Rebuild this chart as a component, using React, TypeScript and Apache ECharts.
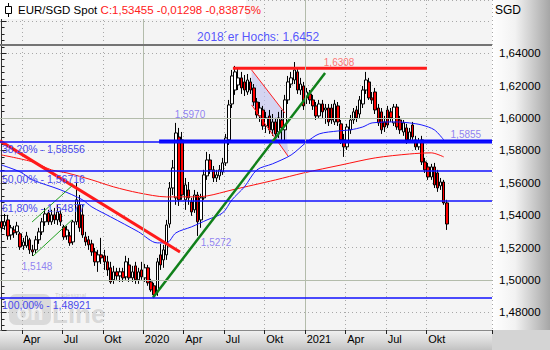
import { useEffect, useRef } from 'react';
import * as echarts from 'echarts';

// ---- axis / calendar ----
const firstWeek = '2019-02-11';
const weekSlots = 158;

// ---- weekly candles ----
const opens = [
  1.5359, 1.5334, 1.5371, 1.5278, 1.5309, 1.5297, 1.5285, 1.5211, 1.5211, 1.5248,
  1.5186, 1.5186, 1.5248, 1.5297, 1.5359, 1.5414, 1.5359, 1.5402, 1.5371, 1.5408,
  1.5328, 1.5272, 1.5272, 1.5235, 1.5359, 1.5464, 1.5402, 1.5266, 1.5248, 1.5223,
  1.5173, 1.5112, 1.5155, 1.5149, 1.5112, 1.5075, 1.5001, 1.5050, 1.5025, 1.5050,
  1.5019, 1.5093, 1.5013, 1.5087, 1.5001, 1.5062, 1.5013, 1.5075, 1.4988, 1.4964,
  1.4927, 1.5155, 1.5124, 1.5155, 1.5346, 1.5568, 1.5507, 1.5883, 1.5865, 1.5495,
  1.5556, 1.5482, 1.5433, 1.5525, 1.5371, 1.5507, 1.5643, 1.5741, 1.5680, 1.5630,
  1.5643, 1.5667, 1.5723, 1.5865, 1.6087, 1.6173, 1.6204, 1.6248, 1.6223, 1.6161,
  1.6223, 1.6186, 1.6099, 1.6013, 1.6050, 1.5951, 1.6013, 1.5927, 1.5976, 1.5914,
  1.5988, 1.5927, 1.6112, 1.6210, 1.6235, 1.6285, 1.6173, 1.6198, 1.6124, 1.6149,
  1.6112, 1.6075, 1.6013, 1.6087, 1.6050, 1.6062, 1.6062, 1.5976, 1.6075, 1.5964,
  1.5865, 1.5822, 1.5927, 1.5988, 1.6050, 1.6025, 1.6087, 1.6173, 1.6223, 1.6124,
  1.6161, 1.6062, 1.6038, 1.5976, 1.6050, 1.6038, 1.5970, 1.6068, 1.5988, 1.5914,
  1.5939, 1.5865, 1.5957, 1.5865, 1.5822, 1.5865, 1.5729, 1.5698, 1.5636, 1.5698,
  1.5661, 1.5581, 1.5605, 1.5476,
];
const closes = [
  1.5322, 1.5359, 1.5272, 1.5322, 1.5291, 1.5334, 1.5204, 1.5235, 1.5272, 1.5186,
  1.5173, 1.5248, 1.5297, 1.5359, 1.5408, 1.5359, 1.5402, 1.5371, 1.5420, 1.5359,
  1.5266, 1.5309, 1.5229, 1.5359, 1.5495, 1.5322, 1.5278, 1.5235, 1.5217, 1.5173,
  1.5112, 1.5155, 1.5136, 1.5112, 1.5062, 1.4988, 1.5050, 1.5025, 1.5050, 1.5013,
  1.5112, 1.5013, 1.5050, 1.5001, 1.5050, 1.5019, 1.5075, 1.4982, 1.4939, 1.4908,
  1.5112, 1.5093, 1.5186, 1.5340, 1.5568, 1.5692, 1.5908, 1.5495, 1.5525, 1.5587,
  1.5507, 1.5420, 1.5525, 1.5359, 1.5507, 1.5649, 1.5741, 1.5680, 1.5630, 1.5649,
  1.5680, 1.5723, 1.5877, 1.6081, 1.6260, 1.6285, 1.6248, 1.6186, 1.6173, 1.6235,
  1.6173, 1.6099, 1.6019, 1.6062, 1.5951, 1.6001, 1.5927, 1.5976, 1.5902, 1.6001,
  1.5939, 1.6112, 1.6223, 1.6248, 1.6297, 1.6173, 1.6210, 1.6075, 1.6161, 1.6112,
  1.6075, 1.6013, 1.6087, 1.6038, 1.6062, 1.5976, 1.5988, 1.6087, 1.5976, 1.5865,
  1.5822, 1.5945, 1.5988, 1.6038, 1.6001, 1.6112, 1.6173, 1.6235, 1.6124, 1.6112,
  1.6050, 1.5970, 1.5927, 1.5945, 1.5957, 1.6001, 1.6068, 1.5945, 1.5927, 1.5970,
  1.5865, 1.5914, 1.5883, 1.5822, 1.5852, 1.5729, 1.5680, 1.5636, 1.5698, 1.5587,
  1.5568, 1.5605, 1.5476, 1.53455,
];
const lows = [
  1.5297, 1.5309, 1.5248, 1.5248, 1.5260, 1.5278, 1.5186, 1.5186, 1.5198, 1.5161,
  1.5148, 1.5167, 1.5223, 1.5278, 1.5334, 1.5340, 1.5340, 1.5346, 1.5340, 1.5334,
  1.5248, 1.5248, 1.5211, 1.5217, 1.5340, 1.5297, 1.5260, 1.5211, 1.5186, 1.5149,
  1.5087, 1.5050, 1.5099, 1.5062, 1.5025, 1.4976, 1.4976, 1.5001, 1.4988, 1.4988,
  1.5001, 1.4988, 1.4988, 1.4976, 1.4976, 1.5001, 1.4988, 1.4964, 1.4927, 1.4892,
  1.4902, 1.5062, 1.5075, 1.5124, 1.5322, 1.5525, 1.5464, 1.5457, 1.5495, 1.5433,
  1.5464, 1.5396, 1.5414, 1.5272, 1.5322, 1.5495, 1.5618, 1.5655, 1.5605, 1.5605,
  1.5618, 1.5649, 1.5704, 1.5834, 1.6062, 1.6143, 1.6173, 1.6149, 1.6136, 1.6143,
  1.6149, 1.6075, 1.6001, 1.5976, 1.5927, 1.5908, 1.5902, 1.5890, 1.5883, 1.5877,
  1.5865, 1.5852, 1.6087, 1.6186, 1.6210, 1.6149, 1.6143, 1.6050, 1.6087, 1.6087,
  1.6050, 1.5988, 1.6001, 1.6001, 1.5964, 1.5951, 1.5964, 1.5957, 1.5951, 1.5840,
  1.5760, 1.5803, 1.5902, 1.5964, 1.5976, 1.6001, 1.6062, 1.6149, 1.6112, 1.6087,
  1.6025, 1.5951, 1.5902, 1.5914, 1.5939, 1.5976, 1.5951, 1.5927, 1.5902, 1.5890,
  1.5840, 1.5852, 1.5865, 1.5803, 1.5803, 1.5710, 1.5661, 1.5618, 1.5618, 1.5568,
  1.5544, 1.5556, 1.5464, 1.5309,
];
const highs = [
  1.5402, 1.5408, 1.5402, 1.5340, 1.5334, 1.5359, 1.5297, 1.5260, 1.5297, 1.5260,
  1.5217, 1.5272, 1.5322, 1.5383, 1.5445, 1.5433, 1.5433, 1.5445, 1.5464, 1.5433,
  1.5340, 1.5334, 1.5297, 1.5371, 1.5599, 1.5525, 1.5464, 1.5297, 1.5272, 1.5248,
  1.5198, 1.5186, 1.5260, 1.5186, 1.5149, 1.5112, 1.5087, 1.5075, 1.5075, 1.5075,
  1.5149, 1.5136, 1.5087, 1.5112, 1.5075, 1.5112, 1.5099, 1.5093, 1.5007, 1.4982,
  1.5136, 1.5223, 1.5217, 1.5371, 1.5605, 1.5741, 1.5970, 1.5939, 1.5914, 1.5630,
  1.5605, 1.5507, 1.5556, 1.5544, 1.5532, 1.5680, 1.5791, 1.5778, 1.5704, 1.5680,
  1.5710, 1.5754, 1.5902, 1.6112, 1.6297, 1.6322, 1.6308, 1.6285, 1.6266, 1.6272,
  1.6248, 1.6210, 1.6124, 1.6099, 1.6075, 1.6038, 1.6050, 1.6025, 1.6001, 1.6038,
  1.6050, 1.6143, 1.6260, 1.6285, 1.6346, 1.6309, 1.6248, 1.6223, 1.6186, 1.6173,
  1.6143, 1.6099, 1.6112, 1.6112, 1.6087, 1.6087, 1.6087, 1.6112, 1.6099, 1.5988,
  1.5902, 1.5964, 1.6019, 1.6062, 1.6075, 1.6136, 1.6198, 1.6285, 1.6248, 1.6161,
  1.6186, 1.6087, 1.6062, 1.6013, 1.6075, 1.6062, 1.6087, 1.6087, 1.6013, 1.5988,
  1.5964, 1.5939, 1.5976, 1.5890, 1.5877, 1.5890, 1.5754, 1.5723, 1.5717, 1.5723,
  1.5680, 1.5630, 1.5618, 1.5495,
];

// ---- moving averages: [week index, value] ----
const blueAverage: number[][] = [
  [0, 1.5710], [6, 1.5667], [10, 1.5618], [19, 1.5556], [26, 1.5495], [29, 1.5451],
  [35, 1.5390], [44, 1.5297], [50, 1.5229], [53, 1.5229], [56, 1.5291], [61, 1.5328],
  [66, 1.5371], [71, 1.5414], [74, 1.5495], [78, 1.5575], [82, 1.5680], [87, 1.5717],
  [93, 1.5772], [98, 1.5852], [102, 1.5902], [108, 1.5920], [112, 1.5927], [116, 1.5945],
  [119, 1.5970], [127, 1.5976], [131, 1.5970], [135, 1.5957], [139, 1.5927], [142, 1.5865],
];
const redAverage: number[][] = [
  [0, 1.5772], [10, 1.5729], [16, 1.5680], [21, 1.5661], [29, 1.5618], [36, 1.5575],
  [44, 1.5538], [53, 1.5513], [60, 1.5513], [66, 1.5519], [74, 1.5556], [81, 1.5587],
  [88, 1.5618], [97, 1.5661], [109, 1.5710], [120, 1.5754], [131, 1.5778], [138, 1.5785],
  [142, 1.5760],
];

// ---- drawn annotations ----
const fibLevels = [1.58556, 1.56716, 1.54877, 1.48921];
const fibTexts = ['38,20% - 1,58556', '50,00% - 1,56716', '61,80% - 1,54877', '100,00% - 1,48921'];
const high2018 = 1.6452;
const solidLevels = [1.5, 1.6];
const resistanceLine: number[][] = [[74.3, 1.6308], [136.6, 1.6308]];
const supportLine: number[][] = [[50.6, 1.5855], [157.5, 1.5855]];
const downTrend: number[][] = [[-0.5, 1.5859], [57.3, 1.5173]];
const upTrend: number[][] = [[48.6, 1.489], [103.9, 1.6278]];
const channelUpper: number[][] = [[9.8, 1.5358], [22.6, 1.5581]];
const channelLower: number[][] = [[10.1, 1.5148], [22.6, 1.5371]];
const flagShade: number[][] = [[80.3, 1.6297], [91.0, 1.6031], [92.1, 1.5762], [80.3, 1.6081]];
const noteTexts = ['1,5970', '1,5272', '1,5148', '1,5855', '1,6308', '2018´er Hochs: 1,6452'];
const noteAnchors: number[][] = [
  [60.5, 1.6019], [68.9, 1.5229], [11.4, 1.5081], [149.1, 1.5896], [108.4, 1.634], [82.4, 1.6501],
];

const instrument = 'EUR/SGD Spot';
const quote = 'C:1,53455 -0,01298 -0,83875%';
const currency = 'SGD';

const FONT = '"Liberation Sans", Arial, sans-serif';
const DAY = 86400000;

function buildCalendar(lastIndex: number) {
  const [y, m, d] = firstWeek.split('-').map(Number);
  const start = Date.UTC(y, m - 1, d);
  const dates: string[] = [];
  const labels: string[] = [];
  for (let i = 0; i < weekSlots; i++) {
    const a = new Date(start + i * 7 * DAY);
    const e = new Date(start + (i * 7 + 6) * DAY);
    dates.push(a.toISOString().slice(0, 10));
    let mon = -1;
    let yr = 0;
    if (a.getUTCDate() === 1) {
      mon = a.getUTCMonth();
      yr = a.getUTCFullYear();
    } else if (e.getUTCMonth() !== a.getUTCMonth()) {
      mon = e.getUTCMonth();
      yr = e.getUTCFullYear();
    }
    let t = '';
    if (i <= lastIndex) {
      if (mon === 0) t = String(yr);
      else if (mon === 3) t = 'Apr';
      else if (mon === 6) t = 'Jul';
      else if (mon === 9) t = 'Okt';
    }
    labels.push(t);
  }
  return { dates, labels };
}

export default function App() {
  const ref = useRef<HTMLDivElement>(null);

  useEffect(() => {
    if (!ref.current) return;
    const chart = echarts.init(ref.current, undefined, { renderer: 'svg' });
    const { dates, labels } = buildCalendar(closes.length - 1);
    const labelByDate: Record<string, string> = {};
    dates.forEach((d, i) => (labelByDate[d] = labels[i]));
    const showAt = (i: number) => labels[i] !== '';
    const yearBounds = labels
      .map((t, i) => (/^\d{4}$/.test(t) ? i - 0.5 : null))
      .filter((v) => v !== null) as number[];

    const seg = (data: number[][], color: string, width: number, z = 4) => ({
      type: 'line',
      xAxisIndex: 1,
      yAxisIndex: 0,
      data,
      symbol: 'none',
      silent: true,
      z,
      lineStyle: { color, width },
    });

    const option: any = {
      animation: false,
      textStyle: { fontFamily: FONT },
      grid: {
        left: 0,
        top: 0,
        right: 58,
        bottom: 20,
        show: true,
        backgroundColor: '#f4f4f4',
        borderWidth: 0,
      },
      xAxis: [
        {
          type: 'category',
          data: dates,
          boundaryGap: true,
          axisLine: { show: true, lineStyle: { color: '#8a8a8a', width: 1 } },
          axisTick: { show: true, interval: (i: number) => showAt(i), length: 4, lineStyle: { color: '#222' } },
          axisLabel: {
            interval: (i: number) => showAt(i),
            formatter: (v: string) => labelByDate[v] || '',
            align: 'left',
            margin: 3,
            fontSize: 11,
            color: '#000',
            fontFamily: FONT,
          },
          splitLine: {
            show: true,
            interval: (i: number) => showAt(i),
            lineStyle: { color: '#a8a8a8', type: [1, 3], width: 1 },
          },
        },
        { type: 'value', min: -0.5, max: weekSlots - 0.5, show: false },
      ],
      yAxis: {
        type: 'value',
        position: 'right',
        min: 1.4691,
        max: 1.6729,
        splitNumber: 10,
        axisLine: { show: true, lineStyle: { color: '#333', width: 1 } },
        axisTick: { show: true, length: 5, lineStyle: { color: '#222' } },
        minorTick: { show: true, splitNumber: 5, length: 3, lineStyle: { color: '#222' } },
        axisLabel: {
          showMinLabel: false,
          showMaxLabel: false,
          margin: 7,
          fontSize: 11.5,
          color: '#000',
          fontFamily: FONT,
          formatter: (v: number) => (v > 1.65 || v < 1.475 ? '' : v.toFixed(5).replace('.', ',')),
        },
        splitLine: { show: true, lineStyle: { color: '#a8a8a8', type: [1, 3], width: 1 } },
      },
      graphic: [
        {
          type: 'rect',
          shape: { x: 0, y: 0, width: 246, height: 19 },
          style: { fill: '#ffffff' },
          z: 50,
        },
        {
          type: 'line',
          shape: { x1: 8.5, y1: 3, x2: 8.5, y2: 17 },
          style: { stroke: '#000', lineWidth: 1 },
          z: 51,
        },
        {
          type: 'rect',
          shape: { x: 5.5, y: 6.5, width: 6, height: 7 },
          style: { fill: '#ffffff', stroke: '#000', lineWidth: 1 },
          z: 52,
        },
        {
          type: 'text',
          x: 18,
          y: 10,
          z: 52,
          style: {
            text: `{a|${instrument}} {b|${quote}}`,
            verticalAlign: 'middle',
            rich: {
              a: { fontSize: 11.5, fill: '#000', fontFamily: FONT },
              b: { fontSize: 11.5, fill: '#ff2020', fontFamily: FONT },
            },
          },
        },
        {
          type: 'text',
          x: 495,
          y: 10,
          z: 52,
          style: { text: currency, fontSize: 12, fill: '#000', verticalAlign: 'middle', fontFamily: FONT },
        },
        {
          type: 'rect',
          shape: { x: 9, y: 294, width: 42, height: 31, r: 7 },
          style: { fill: 'rgba(150,150,150,0.28)' },
          z: 1,
        },
        {
          type: 'text',
          x: 30,
          y: 312,
          z: 1,
          style: {
            text: 'on',
            fontSize: 22,
            fontWeight: 'bold',
            fill: 'rgba(244,244,244,0.9)',
            align: 'center',
            verticalAlign: 'middle',
            fontFamily: FONT,
          },
        },
        {
          type: 'text',
          x: 52,
          y: 314,
          z: 1,
          style: {
            text: 'Line',
            fontSize: 26,
            fontWeight: 'bold',
            fill: 'rgba(150,150,150,0.3)',
            verticalAlign: 'middle',
            fontFamily: FONT,
          },
        },
        {
          type: 'text',
          x: 55,
          y: 295,
          z: 1,
          style: {
            text: 'Tradesignal',
            fontSize: 6,
            fill: 'rgba(150,150,150,0.45)',
            verticalAlign: 'middle',
            fontFamily: FONT,
          },
        },
      ],
      series: [
        // solid grid lines (years, round levels)
        {
          type: 'line',
          xAxisIndex: 1,
          yAxisIndex: 0,
          data: [],
          silent: true,
          z: 1,
          markLine: {
            silent: true,
            symbol: 'none',
            precision: 5,
            label: { show: false },
            lineStyle: { color: '#b3bcab', type: 'solid', width: 1 },
            data: [
              ...solidLevels.map((v) => ({ yAxis: v })),
              ...yearBounds.map((x) => ({ xAxis: x })),
            ],
          },
        },
        // shaded flag
        {
          type: 'custom',
          xAxisIndex: 1,
          yAxisIndex: 0,
          silent: true,
          z: 1,
          data: [[flagShade[0][0], flagShade[0][1]]],
          renderItem: (_p: any, api: any) => ({
            type: 'polygon',
            shape: { points: flagShade.map((p) => api.coord(p)) },
            style: { fill: 'rgba(190,190,238,0.6)', stroke: 'none' },
          }),
        },
        seg([flagShade[0], flagShade[1]], '#ff2020', 1, 3),
        seg([flagShade[3], flagShade[2]], '#ff2020', 1, 3),
        // 2018 high + fibonacci levels
        {
          type: 'line',
          xAxisIndex: 1,
          yAxisIndex: 0,
          data: [],
          silent: true,
          z: 3,
          markLine: {
            silent: true,
            symbol: 'none',
            precision: 5,
            data: [
              {
                yAxis: high2018,
                lineStyle: { color: '#747474', width: 2, type: 'solid' },
                label: { show: false },
              },
              ...fibLevels.map((v, i) => ({
                yAxis: v,
                lineStyle: { color: '#1010ff', width: 1.5, type: 'solid' },
                label: {
                  show: true,
                  formatter: fibTexts[i],
                  position: 'insideStartBottom',
                  distance: 2,
                  color: '#4a4aee',
                  fontSize: 10.5,
                  fontFamily: FONT,
                },
              })),
            ],
          },
        },
        {
          type: 'candlestick',
          xAxisIndex: 0,
          yAxisIndex: 0,
          z: 2,
          barWidth: 3,
          silent: true,
          data: opens.map((o, i) => [o, closes[i], lows[i], highs[i]]),
          itemStyle: {
            color: '#ffffff',
            color0: '#ff0000',
            borderColor: '#000000',
            borderColor0: '#000000',
            borderWidth: 1,
          },
        },
        { ...seg(redAverage, '#ff1010', 1, 3), smooth: 0.3 },
        { ...seg(blueAverage, '#1a1aff', 1, 3), smooth: 0.3 },
        seg(supportLine, '#0000ff', 4, 4),
        seg(resistanceLine, '#ff1a1a', 3, 4),
        seg(downTrend, '#ff1a1a', 3, 4),
        seg(upTrend, '#10801a', 2.5, 4),
        seg(channelUpper, '#20a020', 1, 4),
        seg(channelLower, '#20a020', 1, 4),
        {
          type: 'scatter',
          xAxisIndex: 1,
          yAxisIndex: 0,
          symbolSize: 0,
          silent: true,
          z: 6,
          data: noteTexts.map((t, i) => {
            const big = t.startsWith('2018');
            const red = t === '1,6308';
            return {
              value: noteAnchors[i],
              label: {
                show: true,
                position: 'inside',
                formatter: t,
                fontSize: big ? 12 : 10,
                color: big ? '#2a2aff' : red ? '#ff5050' : '#7565f0',
                fontFamily: FONT,
              },
            };
          }),
        },
      ],
    };

    chart.setOption(option);
    return () => chart.dispose();
  }, []);

  const bg = {
    position: 'fixed' as const,
    left: 0,
    top: 0,
    width: 550,
    height: 350,
    backgroundColor: '#d4d4d4',
    backgroundImage:
      'linear-gradient(to right, #ffffff 0%, #f2f2f2 40%, #a6a6a6 100%), linear-gradient(to bottom, #f2f2f2 0%, #dcdcdc 50%, #c2c2c2 100%)',
    backgroundPosition: '492px 0px, 0px 330px',
    backgroundSize: '58px 330px, 492px 20px',
    backgroundRepeat: 'no-repeat',
  };

  return (
    <div style={bg}>
      <div ref={ref} style={{ width: 550, height: 350 }} />
    </div>
  );
}
